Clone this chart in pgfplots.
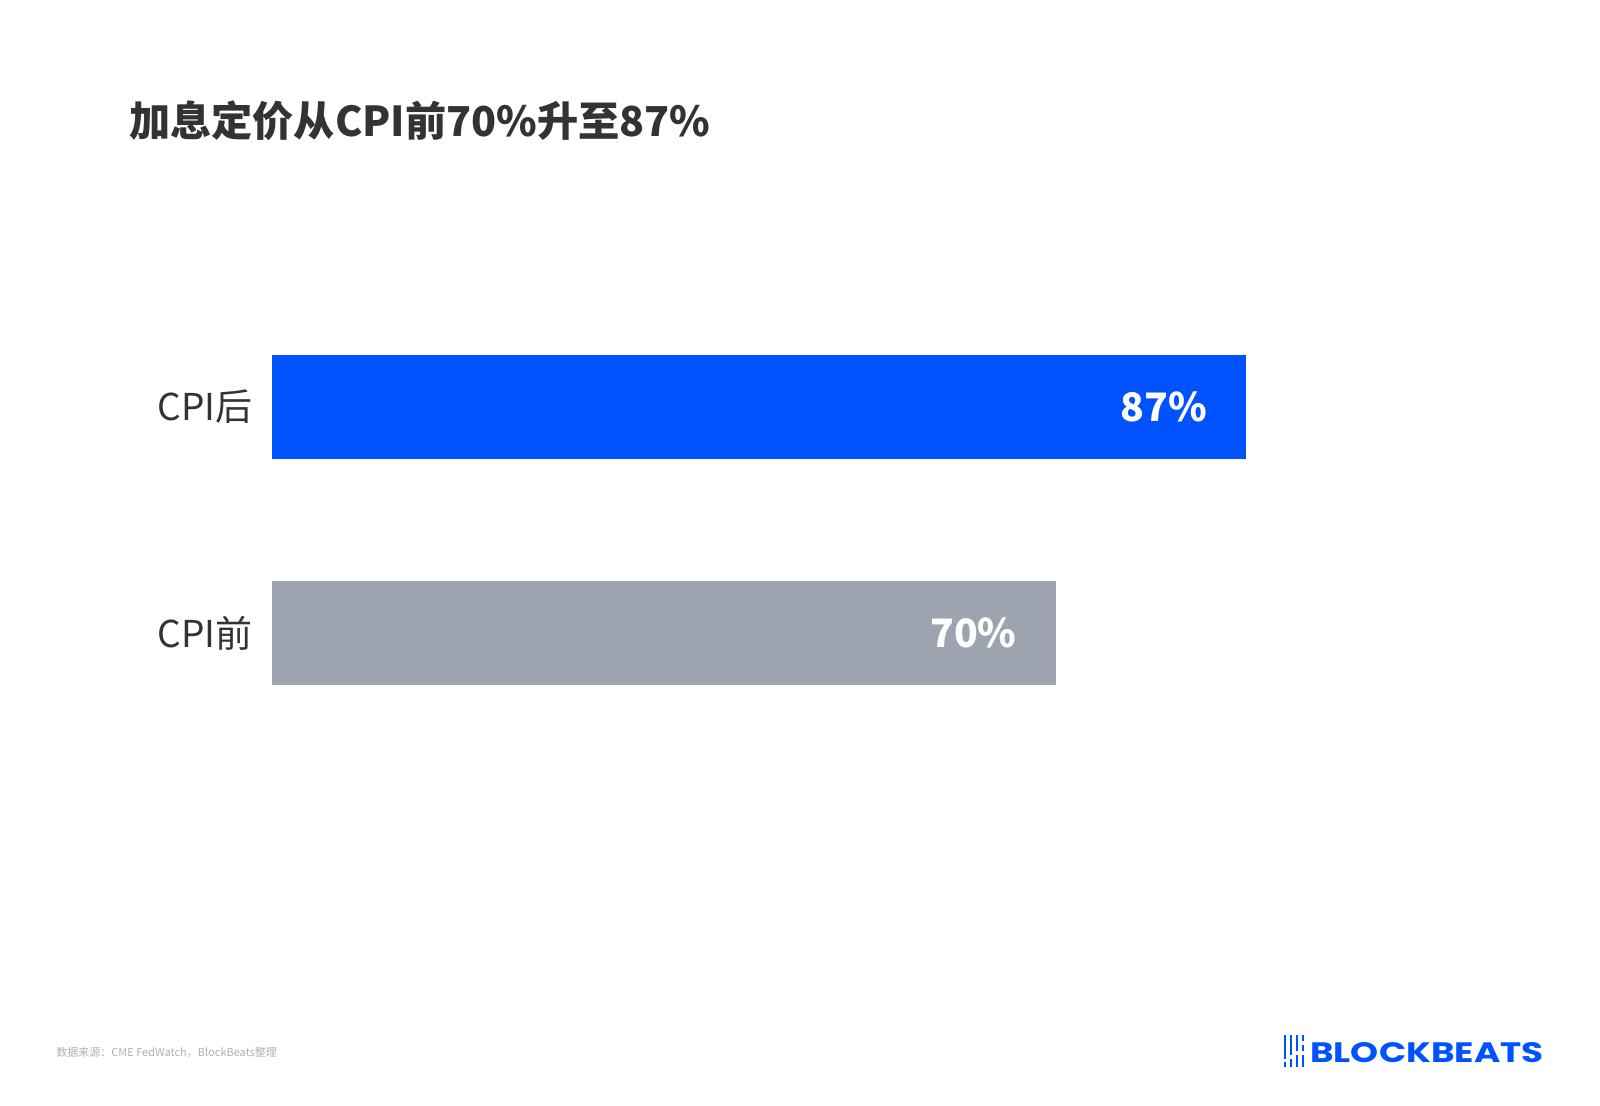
\documentclass[border=0pt]{standalone}
\usepackage{fontspec}
\setmainfont{Noto Sans CJK SC}
\newfontfamily\logofont{Poppins}
\usepackage{pgfplots}
\pgfplotsset{compat=1.18}
\definecolor{barblue}{HTML}{0052FF}
\definecolor{bargray}{HTML}{9EA4AF}
\definecolor{txt}{HTML}{333333}
\definecolor{foot}{HTML}{B0B0B0}
\begin{document}
\begin{tikzpicture}
\path[use as bounding box, fill=white] (0,0) rectangle (800pt,552.5pt);
% title
\node[anchor=west, inner sep=0pt, text=txt, font=\fontsize{20.6pt}{24pt}\selectfont\bfseries] at (64.3pt,492pt) {加息定价从CPI前70\%升至87\%};
\begin{axis}[
  at={(136.2pt,123pt)}, anchor=south west,
  scale only axis, width=559.5pt, height=339pt,
  xmin=0, xmax=100, ymin=-1, ymax=2,
  xbar, bar width=52pt, bar shift=0pt,
  axis line style={draw=none}, tick style={draw=none},
  xtick=\empty, ytick={0,1}, yticklabels={CPI前,CPI后},
  yticklabel style={font=\fontsize{18.5pt}{21pt}\selectfont, text=txt, xshift=-2pt},
  /pgf/number format/assume math mode=true,
  nodes near coords={\pgfmathprintnumber{\pgfplotspointmeta}\%},
  nodes near coords style={anchor=east, xshift=-16pt, text=white, font=\fontsize{19.6pt}{23pt}\selectfont\bfseries},
  point meta=x,
  clip=false,
]
\addplot[fill=barblue, draw=none] coordinates {(87,1)};
\addplot[fill=bargray, draw=none] coordinates {(70,0)};
\end{axis}
% footer
\node[anchor=west, inner sep=0pt, text=foot, font=\fontsize{5.5pt}{6pt}\selectfont] at (28pt,26.5pt) {数据来源：CME FedWatch，BlockBeats整理};
% logo
\node[anchor=south west, inner sep=0pt, text=barblue] at (655pt,21pt) {\resizebox{116.5pt}{10pt}{\logofont\bfseries BLOCKBEATS}};
\begin{scope}[barblue, line width=1.3pt]
\draw (642.5pt,35pt) -- (642.5pt,23pt);
\draw (642.5pt,21.5pt) -- (642.5pt,19pt);
\draw (645.5pt,35pt) -- (645.5pt,25pt);
\draw (645.5pt,23pt) -- (645.5pt,19pt);
\draw (648.5pt,35pt) -- (648.5pt,27pt);
\draw (648.5pt,25pt) -- (648.5pt,19pt);
\draw (651.5pt,35pt) -- (651.5pt,32pt);
\draw (651.5pt,30pt) -- (651.5pt,27pt);
\draw (651.5pt,25pt) -- (651.5pt,19pt);
\end{scope}
\end{tikzpicture}
\end{document}
